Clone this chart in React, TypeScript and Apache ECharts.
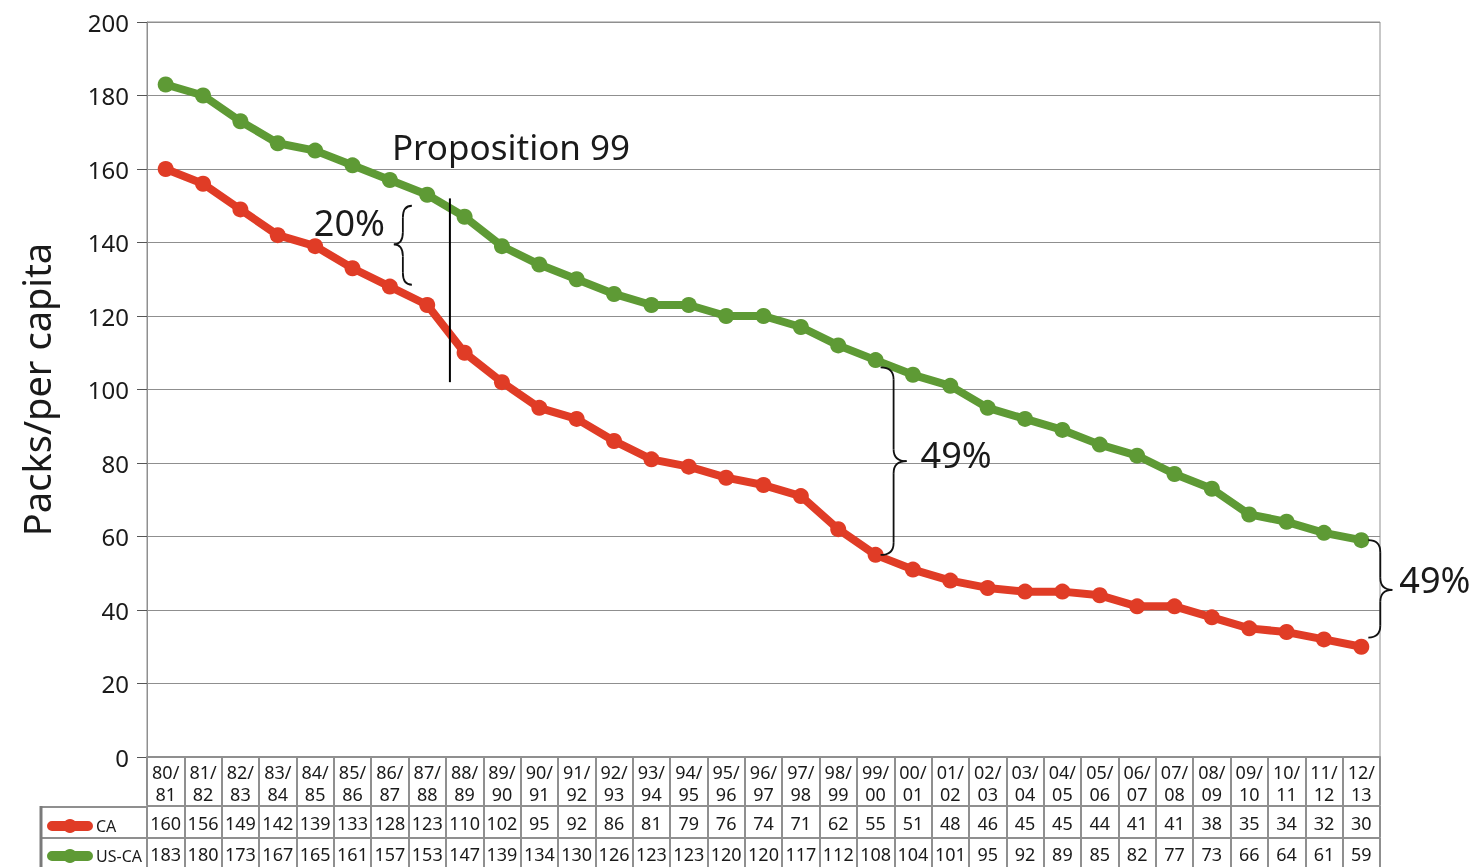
import React, { useEffect, useRef } from "react";
import * as echarts from "echarts";

const SEASONS = [
  "80/81", "81/82", "82/83", "83/84", "84/85", "85/86", "86/87", "87/88", "88/89", "89/90",
  "90/91", "91/92", "92/93", "93/94", "94/95", "95/96", "96/97", "97/98", "98/99", "99/00",
  "00/01", "01/02", "02/03", "03/04", "04/05", "05/06", "06/07", "07/08", "08/09", "09/10",
  "10/11", "11/12", "12/13",
];
const CA = [
  160, 156, 149, 142, 139, 133, 128, 123, 110, 102, 95, 92, 86, 81, 79, 76, 74, 71, 62, 55,
  51, 48, 46, 45, 45, 44, 41, 41, 38, 35, 34, 32, 30,
];
const US_CA = [
  183, 180, 173, 167, 165, 161, 157, 153, 147, 139, 134, 130, 126, 123, 123, 120, 120, 117, 112, 108,
  104, 101, 95, 92, 89, 85, 82, 77, 73, 66, 64, 61, 59,
];
const SERIES_NAMES = ["CA", "US-CA"];
const Y_MIN = 0;
const Y_MAX = 200;
const Y_STEP = 20;

const FONT = "'Noto Sans', 'DejaVu Sans', sans-serif";
const TXT = "#1a1a1a";
const GRAY = "#8f8f8f";
const RED = "#e03c26";
const GREEN = "#5e9a35";
const LEGEND_ICON =
  "path://M5,2 H41 A5,5 0 0 1 41,12 H5 A5,5 0 0 1 5,2 Z M23,0 A7,7 0 1 1 22.99,0 Z";

export default function App() {
  const ref = useRef<HTMLDivElement>(null);

  useEffect(() => {
    document.body.style.margin = "0";
    const chart = echarts.init(ref.current!, null, { renderer: "svg" });
    const tableAxis = (offset: number, len: number, fmt: any, margin: number, size: number) => ({
      type: "category",
      data: SEASONS,
      position: "bottom",
      offset,
      boundaryGap: true,
      axisLine: { show: true, lineStyle: { color: GRAY, width: 2 } },
      axisTick: { show: true, interval: 0, length: len, lineStyle: { color: GRAY, width: 2 } },
      axisLabel: {
        interval: 0,
        formatter: fmt,
        fontFamily: FONT,
        fontSize: size,
        lineHeight: 22,
        margin,
        color: TXT,
      },
      splitLine: { show: false },
    });
    const legendAt = (name: string, top: number) => ({
      data: [{ name, icon: LEGEND_ICON }],
      orient: "horizontal",
      left: 42,
      top,
      itemWidth: 46,
      itemHeight: 14,
      itemGap: 5,
      textStyle: { fontFamily: FONT, fontSize: 16, color: TXT, padding: [0, 0, 0, -2] },
    });
    const option: any = {
      animation: false,
      textStyle: { fontFamily: FONT },
      grid: {
        left: 147,
        right: 103,
        top: 22,
        bottom: 110,
        show: true,
        borderColor: GRAY,
        borderWidth: 1,
      },
      legend: [legendAt(SERIES_NAMES[0], 813), legendAt(SERIES_NAMES[1], 843)],
      xAxis: [
        tableAxis(0, 48, (v: string) => v.replace("/", "/\n"), 4, 18),
        tableAxis(49, 31, (_v: string, i: number) => String(CA[i]), 6, 18),
        tableAxis(81, 30, (_v: string, i: number) => String(US_CA[i]), 5, 18),
      ],
      yAxis: {
        type: "value",
        min: Y_MIN,
        max: Y_MAX,
        interval: Y_STEP,
        name: "Packs/per capita",
        nameLocation: "middle",
        nameGap: 92,
        nameTextStyle: { fontFamily: FONT, fontSize: 38, color: TXT },
        axisLine: { show: true, lineStyle: { color: GRAY, width: 1 } },
        axisTick: { show: true, length: 10, lineStyle: { color: "#555" } },
        axisLabel: { fontFamily: FONT, fontSize: 24, margin: 18, color: TXT },
        splitLine: { lineStyle: { color: GRAY, width: 1 } },
      },
      series: [
        {
          name: SERIES_NAMES[0],
          type: "line",
          data: CA,
          xAxisIndex: 0,
          symbol: "circle",
          symbolSize: 16,
          color: RED,
          lineStyle: { width: 8, color: RED },
          itemStyle: { color: RED },
        },
        {
          name: SERIES_NAMES[1],
          type: "line",
          data: US_CA,
          xAxisIndex: 0,
          symbol: "circle",
          symbolSize: 16,
          color: GREEN,
          lineStyle: { width: 8, color: GREEN },
          itemStyle: { color: GREEN },
        },
      ],
    };
    chart.setOption(option);

    const px = (i: number, v: number) =>
      chart.convertToPixel({ xAxisIndex: 0, yAxisIndex: 0 }, [i, v]) as number[];
    const line = (x1: number, y1: number, x2: number, y2: number, color: string, w: number) => ({
      type: "line",
      shape: { x1, y1, x2, y2 },
      style: { stroke: color, lineWidth: w },
      z: 100,
    });
    const curve = (x1: number, y1: number, cx: number, cy: number, x2: number, y2: number) => ({
      type: "bezierCurve",
      shape: { x1, y1, cpx1: cx, cpy1: cy, x2, y2 },
      style: { stroke: "#111", lineWidth: 1.8, fill: "none" },
      z: 100,
    });
    // dir = 1 -> "}" pointing right, dir = -1 -> "{" pointing left
    const brace = (x0: number, yTop: number, yBot: number, yTip: number, w: number, dir: number) => {
      const xs = x0 + (dir * w) / 2;
      const xt = x0 + dir * w;
      const r = 12;
      return [
        curve(x0, yTop, xs, yTop, xs, yTop + r),
        line(xs, yTop + r, xs, yTip - r, "#111", 1.8),
        curve(xs, yTip - r, xs, yTip, xt, yTip),
        curve(xt, yTip, xs, yTip, xs, yTip + r),
        line(xs, yTip + r, xs, yBot - r, "#111", 1.8),
        curve(xs, yBot - r, xs, yBot, x0, yBot),
      ];
    };
    const text = (x: number, y: number, t: string, size: number) => ({
      type: "text",
      x,
      y,
      style: { text: t, fontFamily: FONT, fontSize: size, fill: TXT, verticalAlign: "middle" },
      z: 100,
    });

    const p7 = px(7, 152);
    const p8 = px(8, 102);
    const propX = (p7[0] + p8[0]) / 2 + 4;
    const propTop = px(7, 166)[1];

    const l1 = px(6, 150);
    const l2 = px(6, 128.5);
    const lTip = px(6, 139.5);

    const m1 = px(19, US_CA[19] - 2);
    const m2 = px(19, CA[19]);
    const mTip = px(19, 80.5);

    const r1 = px(32, US_CA[32]);
    const r2 = px(32, CA[32] + 2.5);
    const rTip = px(32, 45.5);

    const graphic: any[] = [
      line(propX, p7[1], propX, p8[1], "#000", 2),
      text(propX - 58, propTop, "Proposition 99", 35),
      ...brace(l1[0] + 22, l1[1], l2[1], lTip[1], 18, -1),
      text(l1[0] - 76, lTip[1] - 22, "20%", 36),
      ...brace(m1[0] + 5, m1[1], m2[1], mTip[1], 26, 1),
      text(m1[0] + 45, mTip[1] - 7, "49%", 36),
      ...brace(r1[0] + 7, r1[1], r2[1], rTip[1], 24, 1),
      text(r1[0] + 38, rTip[1] - 10, "49%", 36),
      // legend column cell borders
      line(40, 807, 147, 807, GRAY, 2),
      line(40, 838, 147, 838, GRAY, 2),
      line(41, 806, 41, 867, "#7a7a7a", 3),
    ];
    chart.setOption({ graphic });

    return () => chart.dispose();
  }, []);

  return (
    <div
      ref={ref}
      style={{ position: "fixed", left: 0, top: 0, width: 1483, height: 867 }}
    />
  );
}
